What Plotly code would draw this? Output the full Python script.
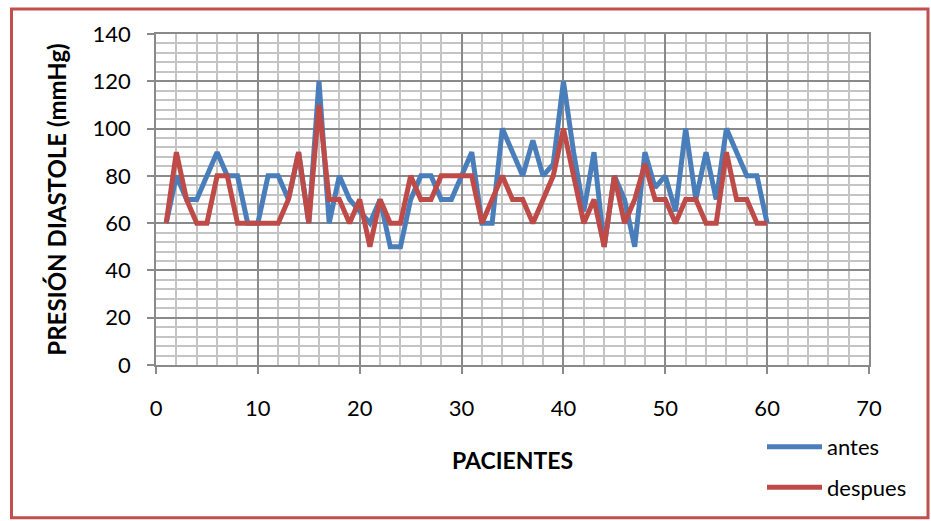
import plotly.graph_objects as go

pacientes = list(range(1, 61))
antes = [60, 80, 70, 70, 80, 90, 80, 80, 60, 60,
         80, 80, 70, 90, 60, 120, 60, 80, 70, 65,
         60, 70, 50, 50, 70, 80, 80, 70, 70, 80,
         90, 60, 60, 100, 90, 80, 95, 80, 85, 120,
         90, 65, 90, 50, 80, 70, 50, 90, 75, 80,
         65, 100, 70, 90, 70, 100, 90, 80, 80, 60]
despues = [60, 90, 70, 60, 60, 80, 80, 60, 60, 60,
           60, 60, 70, 90, 60, 110, 70, 70, 60, 70,
           50, 70, 60, 60, 80, 70, 70, 80, 80, 80,
           80, 60, 70, 80, 70, 70, 60, 70, 80, 100,
           80, 60, 70, 50, 80, 60, 70, 85, 70, 70,
           60, 70, 70, 60, 60, 90, 70, 70, 60, 60]

x_ticks = [0, 10, 20, 30, 40, 50, 60, 70]
y_ticks = [0, 20, 40, 60, 80, 100, 120, 140]

FONT = "Lato"
BLUE = "#4A7EBB"
RED = "#BE4B48"
MAJOR = "#8a8a8a"
MINOR = "#c4c4c4"

fig = go.Figure()
fig.add_trace(go.Scatter(x=pacientes, y=antes, mode="lines", name="antes",
                         line=dict(color=BLUE, width=5), legendgroup="a"))
fig.add_trace(go.Scatter(x=pacientes, y=despues, mode="lines", name="despues",
                         line=dict(color=RED, width=5), legendgroup="d"))

L, R, T, B = 156, 62, 33.5, 156
W, H = 931, 521
pw, ph = W - L - R, H - T - B

def px2x(p):
    return (p - L) / pw

def px2y(p):
    return (H - B - p) / ph

fig.update_layout(
    width=W, height=H,
    margin=dict(l=L, r=R, t=T, b=B, pad=0, autoexpand=False),
    paper_bgcolor="white", plot_bgcolor="white",
    font=dict(family=FONT, size=22, color="black"),
    showlegend=True,
    legend=dict(x=px2x(762), y=px2y(426), xanchor="left", yanchor="top",
                font=dict(size=22), tracegroupgap=9,
                bgcolor="rgba(0,0,0,0)", itemwidth=55),
    xaxis=dict(range=[0, 70], tickvals=x_ticks, ticks="outside", ticklen=7,
               tickcolor=MAJOR, tickwidth=1.5, automargin=False,
               showline=True, linecolor=MAJOR, linewidth=1.5, mirror=True,
               showgrid=True, gridcolor=MAJOR, gridwidth=1.6,
               minor=dict(dtick=2, showgrid=True, gridcolor=MINOR, gridwidth=1.6),
               ticklabelstandoff=16, zeroline=False,
               title=dict(text="<b>PACIENTES</b>", font=dict(size=23), standoff=33)),
    yaxis=dict(range=[0, 140], tickvals=y_ticks, ticks="outside", ticklen=7,
               tickcolor=MAJOR, tickwidth=1.5, automargin=False,
               showline=True, linecolor=MAJOR, linewidth=1.5, mirror=True,
               showgrid=True, gridcolor=MAJOR, gridwidth=1.6,
               minor=dict(dtick=4, showgrid=True, gridcolor=MINOR, gridwidth=1.6),
               ticklabelstandoff=12, zeroline=False,
               title=dict(text="<b>PRESIÓN DIASTOLE (mmHg)</b>", font=dict(size=24), standoff=19)),
)

fig.add_shape(type="rect", xref="paper", yref="paper",
              x0=px2x(11.5), x1=px2x(928), y0=px2y(518), y1=px2y(8.5),
              line=dict(color="#C0504D", width=3), fillcolor="rgba(0,0,0,0)",
              layer="above")

fig.write_html("out.html")
